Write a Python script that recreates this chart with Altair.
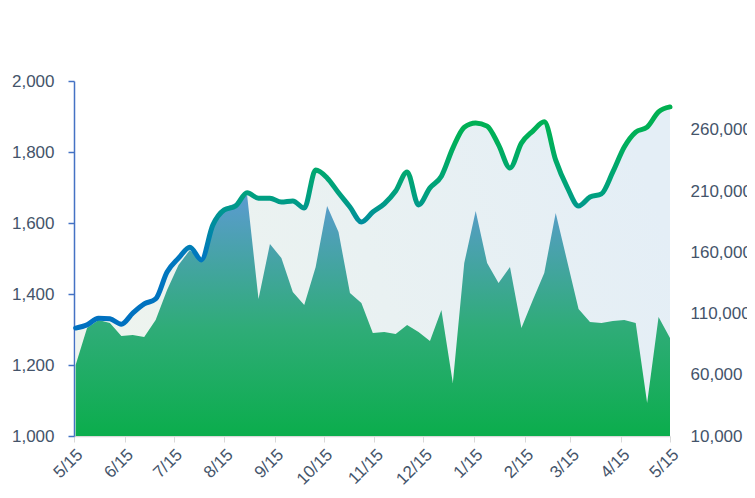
import altair as alt
import pandas as pd

# weekly dates (5/16/2017 .. 5/15/2018)
dates = [d.strftime("%Y-%m-%dT00:00:00") for d in pd.date_range("2017-05-16", periods=53, freq="7D")]

# left axis series (smoothed line)
price = [1304, 1313, 1332, 1330, 1315, 1346, 1372, 1386, 1462, 1501, 1532, 1496, 1594,
         1637, 1648, 1685, 1670, 1670, 1659, 1662, 1642, 1749, 1727, 1685, 1645, 1603,
         1631, 1654, 1690, 1744, 1651, 1699, 1732, 1811, 1870, 1882, 1873, 1820, 1755,
         1825, 1859, 1885, 1777, 1701, 1648, 1673, 1682, 1744, 1814, 1856, 1870, 1913, 1927]

# right axis series (area)
volume = [68000, 98200, 104800, 102300, 91700, 92500, 90900, 104800, 129300, 149700,
          161900, 152100, 182400, 196300, 200300, 206900, 121900, 166800, 155400, 127600,
          117000, 148100, 197900, 176600, 126800, 118600, 94100, 95000, 93300, 100700,
          95000, 87600, 112900, 53300, 151300, 193800, 151300, 135000, 148100, 98200,
          121100, 143200, 192200, 153000, 113700, 103100, 102300, 103900, 104800, 102300,
          37000, 107200, 90100]

left_ticks = [1000, 1200, 1400, 1600, 1800, 2000]
right_ticks = [10000, 60000, 110000, 160000, 210000, 260000]
month_ticks = [(2017, m) for m in range(5, 13)] + [(2018, m) for m in range(1, 6)]

df = pd.DataFrame({"date": dates, "price": price, "volume": volume})

label_color = "#44546A"
FONT = "Liberation Sans"

x_enc = alt.X(
    "date:T",
    scale=alt.Scale(domain=[alt.DateTime(year=2017, month=5, date=15),
                            alt.DateTime(year=2018, month=5, date=15)]),
    axis=alt.Axis(
        title=None,
        values=[alt.DateTime(year=y, month=m, date=15) for y, m in month_ticks],
        labelExpr="(month(datum.value)+1) + '/' + date(datum.value)",
        labelAngle=-45, labelFontSize=17, labelColor=label_color, labelFont=FONT,
        domainColor="#D9D9D9", tickColor="#D9D9D9", tickSize=6, domainWidth=1.5,
        grid=False, labelPadding=4,
    ),
)

left_scale = alt.Scale(domain=[1000, 2000], zero=False, nice=False)
right_scale = alt.Scale(domain=[10000, 300000], zero=False, nice=False)

light_fill = alt.Gradient(
    gradient="linear",
    stops=[alt.GradientStop(color="#EEF4EE", offset=0),
           alt.GradientStop(color="#E4EEF6", offset=1)],
    x1=0, y1=0.6, x2=1, y2=0.4,
)
green_fill = alt.Gradient(
    gradient="linear",
    stops=[alt.GradientStop(color="#0BAD4C", offset=0),
           alt.GradientStop(color="#2FAC78", offset=0.45),
           alt.GradientStop(color="#5B9BD0", offset=1)],
    x1=0, y1=1, x2=0, y2=0,
)
line_stroke = alt.Gradient(
    gradient="linear",
    stops=[alt.GradientStop(color="#0070C0", offset=0),
           alt.GradientStop(color="#0078BE", offset=0.33),
           alt.GradientStop(color="#00A080", offset=0.6),
           alt.GradientStop(color="#00B05A", offset=0.85),
           alt.GradientStop(color="#00B050", offset=1)],
    x1=0, y1=1, x2=0, y2=0,
)

light = alt.Chart(df).mark_area(interpolate="monotone", color=light_fill).encode(
    x=x_enc,
    y=alt.Y("price:Q", scale=left_scale, axis=None),
    y2=alt.datum(1000),
)

green = alt.Chart(df).mark_area(color=green_fill).encode(
    x=x_enc,
    y=alt.Y("volume:Q", scale=right_scale,
            axis=alt.Axis(orient="right", title=None, values=right_ticks, format=",.0f",
                          domain=False, ticks=False, grid=False, labelPadding=20,
                          labelFontSize=17, labelColor=label_color, labelFont=FONT)),
    y2=alt.datum(10000),
)

line = alt.Chart(df).mark_line(interpolate="monotone", stroke=line_stroke, strokeWidth=5,
                               strokeCap="round").encode(
    x=x_enc,
    y=alt.Y("price:Q", scale=left_scale,
            axis=alt.Axis(orient="left", title=None, values=left_ticks, format=",.0f",
                          domainColor="#4472C4", tickColor="#4472C4", domainWidth=1.5,
                          tickWidth=1.5, tickSize=6, grid=False, labelPadding=14,
                          labelFontSize=17, labelColor=label_color, labelFont=FONT)),
)

chart = alt.layer(light, green, line).resolve_scale(y="independent").properties(
    width=596, height=355,
    autosize=alt.AutoSizeParams(type="none"),
    padding={"left": 66, "top": 73, "right": 77, "bottom": 54},
    background="white",
).configure_view(stroke=None)

chart.save("out.html", embed_options={"renderer": "svg", "actions": False})
